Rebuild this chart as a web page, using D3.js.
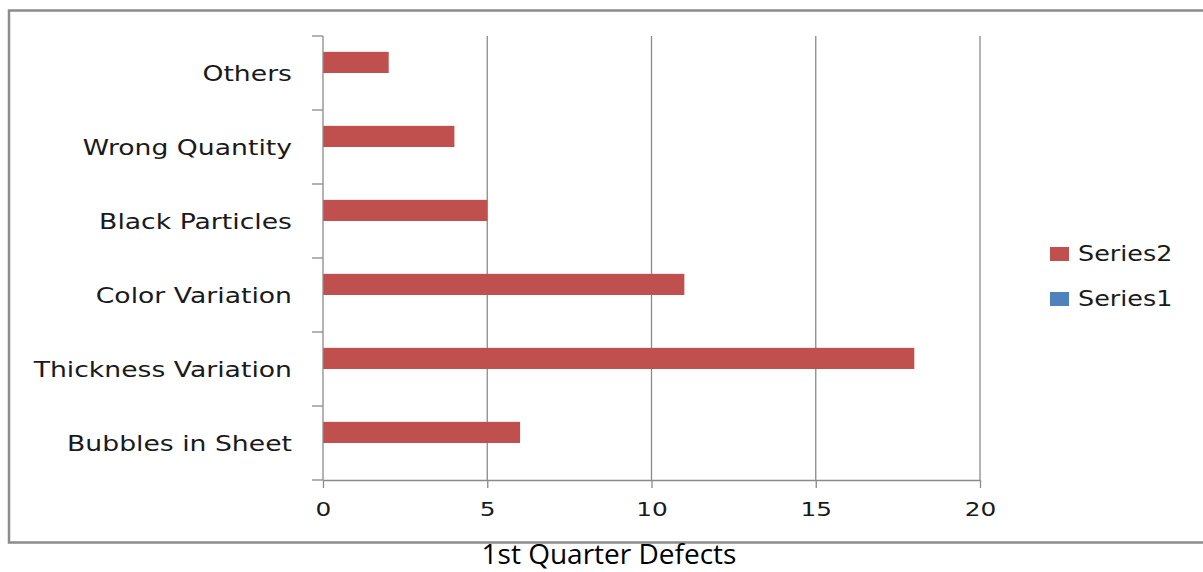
<!DOCTYPE html>
<html>
<head>
<meta charset="utf-8">
<script src="https://cdn.jsdelivr.net/npm/d3@7"></script>
<style>
  html, body { margin: 0; padding: 0; background: #fff; }
  svg { display: block; }
</style>
</head>
<body>
<svg id="chart" width="1203" height="572"></svg>
<script>
// Defect categories, listed bottom to top as on the vertical axis
const categories = ["Bubbles in Sheet", "Thickness Variation", "Color Variation", "Black Particles", "Wrong Quantity", "Others"];
const series2 = [6, 18, 11, 5, 4, 2];
const series1 = [0, 0, 0, 0, 0, 0];
const seriesNames = ["Series2", "Series1"];
const seriesColors = ["#C0504D", "#4F81BD"];
const xTicks = [0, 5, 10, 15, 20];
const caption = "1st Quarter Defects";

const svg = d3.select("#chart");
const W = 1203, H = 572;
const plot = { left: 323, right: 980, top: 36, bottom: 480 };
const stretch = 1.24;           // horizontal widening of the label glyphs
const gridColor = "#8a8a8a";
const textColor = "#1a1a1a";
const labelFont = "'DejaVu Sans', Verdana, sans-serif";

svg.append("rect").attr("width", W).attr("height", H).attr("fill", "#fff");

// chart frame (runs past the right edge)
svg.append("rect")
  .attr("x", 9).attr("y", 10.5)
  .attr("width", W + 20).attr("height", 532)
  .attr("fill", "none").attr("stroke", "#8c8c8c").attr("stroke-width", 2.5);

const x = d3.scaleLinear().domain([0, 20]).range([plot.left, plot.right]);
const y = d3.scaleBand().domain(categories).range([plot.bottom, plot.top]).paddingInner(0).paddingOuter(0);
const ys = d3.scaleBand().domain(seriesNames).range([0, y.bandwidth()]).paddingInner(0).paddingOuter(0.75);

// vertical gridlines
svg.append("g").selectAll("line").data(xTicks.filter(d => d > 0)).join("line")
  .attr("x1", d => x(d)).attr("x2", d => x(d))
  .attr("y1", plot.top).attr("y2", plot.bottom)
  .attr("stroke", gridColor).attr("stroke-width", 1.3);

// bars
const rows = categories.map((c, i) => ({ cat: c, Series2: series2[i], Series1: series1[i] }));
const barG = svg.append("g");
seriesNames.forEach((s, si) => {
  barG.selectAll("rect." + s).data(rows).join("rect")
    .attr("class", s)
    .attr("x", x(0))
    .attr("y", d => y(d.cat) + ys(s))
    .attr("width", d => x(d[s]) - x(0))
    .attr("height", ys.bandwidth())
    .attr("fill", seriesColors[si]);
});

// horizontal axis
const xAxis = svg.append("g")
  .attr("transform", `translate(0,${plot.bottom})`)
  .call(d3.axisBottom(x).tickValues(xTicks).tickSize(8).tickPadding(14).tickSizeOuter(0));
xAxis.select(".domain").attr("stroke", gridColor).attr("stroke-width", 1.3);
xAxis.selectAll(".tick line").attr("stroke", gridColor).attr("stroke-width", 1.3);
xAxis.selectAll(".tick text")
  .attr("fill", textColor).attr("font-family", labelFont).attr("font-size", 20)
  .attr("transform", `scale(${stretch},1)`);

// vertical axis line and category boundary ticks
svg.append("line")
  .attr("x1", plot.left).attr("x2", plot.left)
  .attr("y1", plot.top).attr("y2", plot.bottom)
  .attr("stroke", gridColor).attr("stroke-width", 1.3);
const bounds = categories.map(c => y(c)).concat([plot.bottom]);
svg.append("g").selectAll("line").data(bounds).join("line")
  .attr("x1", plot.left - 11).attr("x2", plot.left)
  .attr("y1", d => d).attr("y2", d => d)
  .attr("stroke", gridColor).attr("stroke-width", 1.3);

// category labels
svg.append("g").selectAll("text").data(categories).join("text")
  .attr("transform", d => `translate(${plot.left - 31},${y(d) + y.bandwidth() / 2}) scale(${stretch},1)`)
  .attr("text-anchor", "end").attr("dy", "0.36em")
  .attr("font-family", labelFont).attr("font-size", 21.5).attr("fill", textColor)
  .text(d => d);

// legend
const legend = svg.append("g").attr("transform", "translate(1050,247)");
seriesNames.forEach((s, i) => {
  const g = legend.append("g").attr("transform", `translate(0,${i * 45})`);
  g.append("rect").attr("width", 19).attr("height", 14).attr("fill", seriesColors[i]);
  g.append("text")
    .attr("transform", `translate(28,7) scale(${stretch},1)`)
    .attr("dy", "0.36em")
    .attr("font-family", labelFont).attr("font-size", 20.5).attr("fill", textColor)
    .text(s);
});

// caption below the frame
svg.append("text")
  .attr("x", 609).attr("y", 564)
  .attr("text-anchor", "middle")
  .attr("font-family", "'Open Sans', Carlito, Calibri, sans-serif").attr("font-size", 28)
  .attr("fill", "#000")
  .text(caption);
</script>
</body>
</html>
